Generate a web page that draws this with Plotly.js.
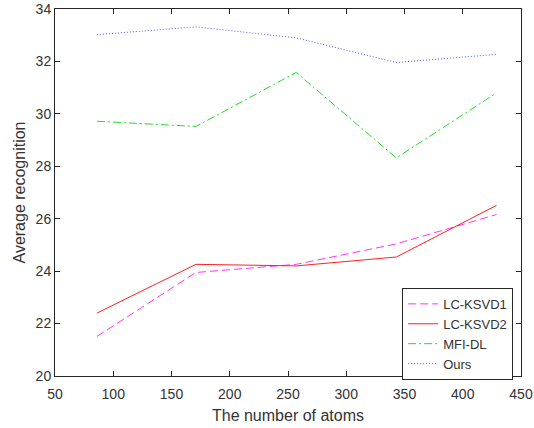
<!DOCTYPE html>
<html><head><meta charset="utf-8">
<script src="https://cdn.plot.ly/plotly-3.0.1.min.js"></script>
<style>body{margin:0;background:#fff}#c{width:534px;height:428px}</style>
</head><body><div id="c"></div>
<script>
const atoms = [86, 171, 257, 343, 429];
const lcksvd1 = [21.51, 23.95, 24.26, 25.04, 26.16];
const lcksvd2 = [22.40, 24.26, 24.20, 24.54, 26.51];
const mfidl = [29.72, 29.52, 31.58, 28.32, 30.80];
const ours = [33.02, 33.32, 32.90, 31.96, 32.27];
const names = ['LC-KSVD1', 'LC-KSVD2', 'MFI-DL', 'Ours'];
const xTicks = [50, 100, 150, 200, 250, 300, 350, 400, 450];
const yTicks = [20, 22, 24, 26, 28, 30, 32, 34];

const FONT = 'Liberation Sans, Arial, sans-serif';
const TXT = '#333333';
const traces = [
  {x: atoms, y: lcksvd1, name: names[0], mode: 'lines', line: {color: '#ff33ff', width: 1, dash: '8px,4px'}},
  {x: atoms, y: lcksvd2, name: names[1], mode: 'lines', line: {color: '#ff2020', width: 1, dash: 'solid'}},
  {x: atoms, y: mfidl, name: names[2], mode: 'lines', line: {color: '#22dd22', width: 1, dash: '8px,3px,2px,3px'}},
  {x: atoms, y: ours, name: names[3], mode: 'lines', line: {color: '#5555ff', width: 1, dash: '1px,2px'}}
];
const axisCommon = {
  showline: true, linecolor: '#262626', linewidth: 1, mirror: 'ticks',
  ticks: 'inside', ticklen: 5, tickcolor: '#262626', showgrid: false, zeroline: false,
  tickmode: 'array', ticklabeloverflow: 'allow',
  tickfont: {family: FONT, size: 14, color: TXT}
};
const layout = {
  width: 534, height: 428,
  margin: {l: 55, r: 13, t: 9, b: 52},
  paper_bgcolor: '#fff', plot_bgcolor: '#fff',
  showlegend: true,
  xaxis: Object.assign({}, axisCommon, {range: [50, 450.001], tickvals: xTicks, ticktext: xTicks.map(String),
    ticklabelstandoff: 5,
    title: {text: 'The number of atoms', standoff: 9, font: {family: FONT, size: 16, color: TXT}}}),
  yaxis: Object.assign({}, axisCommon, {range: [20, 34.001], tickvals: yTicks, ticktext: yTicks.map(String),
    title: {text: 'Average recognition', standoff: 6, font: {family: FONT, size: 16, color: TXT}}}),
  legend: {x: 0.745, y: 0.24, xanchor: 'left', yanchor: 'top', bgcolor: '#fff',
    bordercolor: '#262626', borderwidth: 1, tracegroupgap: 0, itemwidth: 30,
    font: {family: FONT, size: 13, color: TXT}}
};
Plotly.newPlot('c', traces, layout, {staticPlot: true});
</script></body></html>
